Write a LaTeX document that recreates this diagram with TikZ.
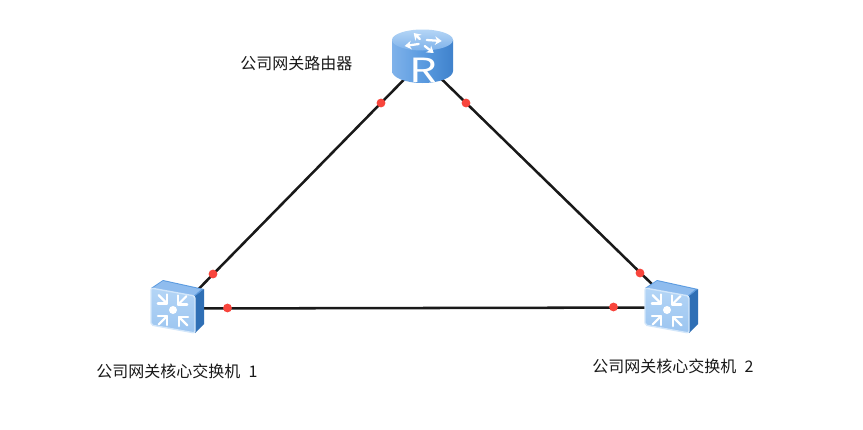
\documentclass[tikz,border=0pt]{standalone}
\usepackage{fontspec}
\setmainfont{Noto Sans CJK SC}
\usetikzlibrary{arrows.meta}
\definecolor{blueA}{HTML}{9CC5F0}
\definecolor{blueB}{HTML}{5B9BE0}
\definecolor{blueC}{HTML}{3F82CC}
\definecolor{blueD}{HTML}{2F6FB5}
\definecolor{blueE}{HTML}{7FB2EA}
\definecolor{blueF}{HTML}{B4D5F6}
\definecolor{dotred}{HTML}{F8453C}
\tikzset{
  anchorpt/.style={inner sep=0pt,minimum size=1pt},
  link/.style={line width=1.9pt,draw=black!90},
  reddot/.style={circle,fill=dotred,inner sep=0pt,minimum size=6.6pt},
  lab/.style={font=\fontsize{12}{14}\selectfont,text=black!90,inner sep=0pt},
  whiteline/.style={draw=white,line width=1.6pt,line cap=round,line join=round},
  arrowwhiteb/.style={draw=white,line width=1.7pt,line cap=round,-{Stealth[length=5pt,width=6.5pt]}}
}
\newcommand{\inarrow}[3]{%
  \begin{scope}[shift={(#1,#2)},rotate=#3]
    \draw[whiteline] (-12,0) -- (0,0);
    \draw[whiteline] (-6.5,-6.5) -- (0,0) -- (-6.5,6.5);
  \end{scope}}
\newcommand{\switchicon}[2]{%
  \begin{scope}[shift={(#1,#2)}]
    \fill[blueB] (0,0) -- (12,-8) -- (53,1) -- (44,8) -- cycle;
    \fill[blueE!70!blueF] (2,0) -- (12,-7) -- (50,1.4) -- (43,7.5) -- cycle;
    \fill[blueD] (44,8) -- (53,1) -- (53,36) -- (44,45) -- cycle;
    \shade[top color=blueF,bottom color=blueA,draw=blueF!60!white,line width=1pt,rounded corners=1.5pt]
      (0,0) -- (44,8) -- (44,45) -- (0,37) -- cycle;
    \fill[white] (22,22) circle (4);
    \inarrow{16}{15.5}{-45}
    \inarrow{27}{16.5}{225}
    \inarrow{16}{28}{45}
    \inarrow{28}{29}{135}
  \end{scope}}
\begin{document}
\begin{tikzpicture}[x=0.75pt,y=-0.75pt]
\useasboundingbox[fill=white] (0,0) rectangle (863,429);
% anchors
\node[anchorpt] (r) at (422.6,60.6) {};
\node[anchorpt] (sa) at (179.5,308.5) {};
\node[anchorpt] (sb) at (676,307.5) {};
% connectors
\draw[link] (r) -- (sa);
\draw[link] (r) -- (sb);
\draw[link] (sa) -- (sb);
% port dots
\node[reddot] (d1) at (381,103) {};
\node[reddot] (d2) at (466,103) {};
\node[reddot] (d3) at (213,274) {};
\node[reddot] (d4) at (640,273) {};
\node[reddot] (d5) at (227.5,308) {};
\node[reddot] (d6) at (613.5,307) {};
% router
\shade[left color=blueE,right color=blueC,middle color=blueB]
  (392,40) -- (392,71) arc[start angle=180,end angle=0,x radius=30.5,y radius=12] -- (453,40) -- cycle;
\shade[top color=blueF,bottom color=blueE] (422.5,40) ellipse[x radius=30.5,y radius=10.5];
\begin{scope}[shift={(422.7,43)}]
  \draw[arrowwhiteb] (-4,1) -- (-18,3);
  \draw[arrowwhiteb] (-3,-4) -- (-9,-10);
  \draw[arrowwhiteb] (4,-3) -- (19,-2);
  \draw[arrowwhiteb] (2,3) -- (11,10);
\end{scope}
\node[anchorpt,text=white,font=\fontsize{25}{25}\selectfont,xscale=1.3] (rl) at (423,70.5) {R};
% switches
\switchicon{151}{288}
\switchicon{645}{288}
% labels
\node[lab,anchor=west] (t1) at (240,63) {公司网关路由器};
\node[lab,anchor=west] (t2) at (96,371) {公司网关核心交换机\hspace{3.5pt} 1};
\node[lab,anchor=west] (t3) at (592,366) {公司网关核心交换机\hspace{3.5pt} 2};
\end{tikzpicture}
\end{document}
